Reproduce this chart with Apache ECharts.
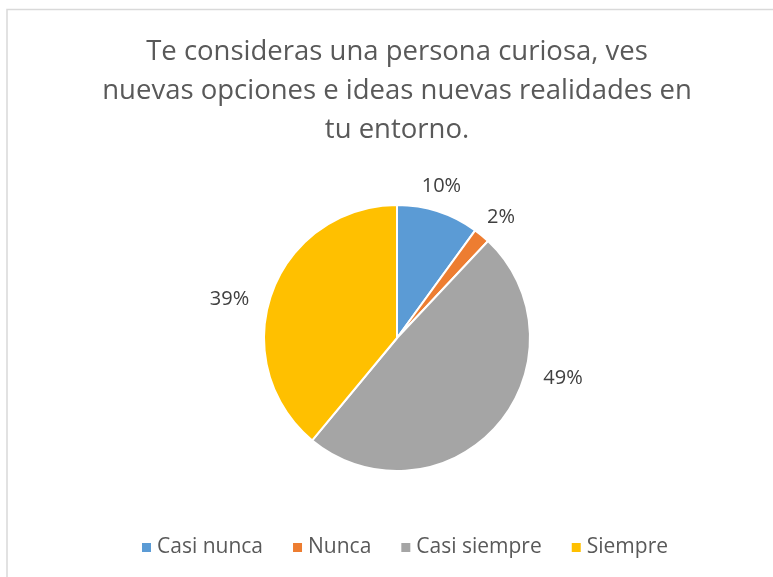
<!DOCTYPE html>
<html>
<head>
<meta charset="utf-8">
<script src="https://cdn.jsdelivr.net/npm/echarts@6/dist/echarts.min.js"></script>
<style>
  html, body { margin: 0; padding: 0; background: #fff; }
  #chart { width: 773px; height: 577px; }
</style>
</head>
<body>
<div id="chart"></div>
<script>
  const titleText = "Te consideras una persona curiosa, ves\nnuevas opciones e ideas nuevas realidades en\ntu entorno.";
  const categories = ["Casi nunca", "Nunca", "Casi siempre", "Siempre"];
  const percents = [10, 2, 49, 39];
  const colors = ["#5b9bd5", "#ed7d31", "#a5a5a5", "#ffc000"];

  const chart = echarts.init(document.getElementById("chart"));
  const font = "'Open Sans', sans-serif";

  // excel "best fit" nudges a couple of labels away from the slice mid-angle
  const labelNudge = [[-10, 0], [-3, 3], [41, -66], [-12, 15]];

  chart.setOption({
    color: colors,
    animation: false,
    title: {
      text: titleText,
      left: 392,
      textAlign: "center",
      top: 28,
      textStyle: {
        fontFamily: font,
        fontSize: 27.5,
        fontWeight: "normal",
        color: "#595959",
        lineHeight: 39
      }
    },
    graphic: [{
      type: "rect",
      shape: { x: 7, y: 9.5, width: 800, height: 600 },
      style: { fill: "none", stroke: "#d9d9d9", lineWidth: 1.5 },
      silent: true
    }],
    legend: {
      bottom: 14,
      left: 135,
      icon: "rect",
      itemWidth: 11,
      itemHeight: 11,
      itemGap: 28,
      textStyle: { fontFamily: font, fontSize: 21, color: "#595959" },
      data: categories
    },
    series: [{
      type: "pie",
      center: [397, 338],
      radius: 133,
      startAngle: 90,
      clockwise: true,
      itemStyle: { borderColor: "#fff", borderWidth: 2 },
      label: {
        show: true,
        position: "outside",
        formatter: "{c}%",
        fontFamily: font,
        fontSize: 20,
        color: "#404040"
      },
      labelLine: { show: false, length: 27, length2: 0 },
      labelLayout(params) {
        const n = labelNudge[params.dataIndex];
        return { align: "center", verticalAlign: "middle", dx: n[0], dy: n[1] };
      },
      data: categories.map((name, i) => ({ name, value: percents[i] }))
    }]
  });
</script>
</body>
</html>
